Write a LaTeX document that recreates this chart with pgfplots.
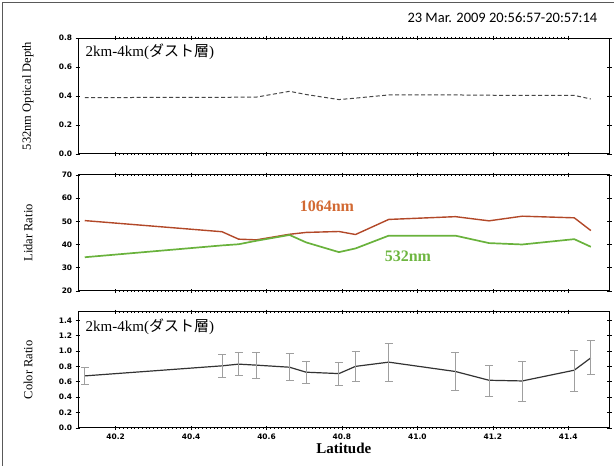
\documentclass[border=0pt]{standalone}
\usepackage{fontspec}
\setmainfont{Liberation Serif}
\newfontfamily\jp{Noto Sans CJK JP}
\newfontfamily\tickf{DejaVu Sans}
\newfontfamily\stamp{Carlito}
\usepackage{pgfplots}
\usepackage{pgfplotstable}
\pgfplotsset{compat=1.18}
\definecolor{c1064}{RGB}{178,72,40}
\definecolor{t1064}{RGB}{210,105,50}
\definecolor{c532}{RGB}{105,178,60}
\definecolor{t532}{RGB}{110,182,65}

\pgfplotstableread{
x y
40.118 0.389
40.482 0.390
40.526 0.392
40.573 0.392
40.661 0.432
40.705 0.410
40.792 0.375
40.836 0.385
40.924 0.407
41.101 0.407
41.190 0.405
41.278 0.404
41.416 0.404
41.460 0.379
}\od

\pgfplotstableread{
x a b
40.118 50.3 34.5
40.482 45.5 39.6
40.526 42.3 40.1
40.573 42.0 41.6
40.661 44.4 44.1
40.705 45.2 40.9
40.792 45.6 36.7
40.836 44.3 38.3
40.924 50.8 43.8
41.101 52.0 43.8
41.190 50.2 40.6
41.278 52.2 40.0
41.416 51.5 42.3
41.460 46.0 39.0
}\lr

\pgfplotstableread{
x y ep em
40.118 0.676 0.109 0.113
40.482 0.807 0.153 0.157
40.526 0.829 0.157 0.153
40.573 0.816 0.161 0.171
40.661 0.789 0.175 0.170
40.705 0.724 0.144 0.144
40.792 0.706 0.149 0.156
40.836 0.800 0.194 0.194
40.924 0.855 0.248 0.253
41.101 0.733 0.248 0.249
41.190 0.619 0.196 0.213
41.278 0.610 0.258 0.261
41.416 0.750 0.253 0.275
41.460 0.911 0.227 0.218
}\cr

\pgfplotsset{panel/.style={
  scale only axis, width=532pt,
  xmin=40.1, xmax=41.51,
  xtick={40.2,40.4,40.6,40.8,41.0,41.2,41.4},
  minor x tick num=19,
  tick align=center,
  major tick length=4.5pt, minor tick length=2.2pt,
  tick style={black, line width=0.5pt},
  minor tick style={line width=0.35pt},
  axis line style={line width=0.9pt},
  /pgf/number format/assume math mode=true,
  tick label style={font=\tickf\bfseries\fontsize{7.5}{9}\selectfont},
  every axis y label/.style={at={(rel axis cs:0,0.5)}, anchor=center, rotate=90, yshift=50pt, font=\fontsize{12.5}{14}\selectfont},
  clip=false,
}}

\begin{document}
\begin{tikzpicture}[x=1pt,y=1pt]
\path (0,0) rectangle (614,466);
\draw[gray!70!black, line width=0.6pt] (2,0) -- (2,464) -- (614,464);
\node[anchor=base east, font=\stamp\fontsize{14.5}{16}\selectfont] at (601,443) {23 Mar. 2009 20:56:57-20:57:14};

\begin{axis}[panel, at={(78pt,312pt)}, anchor=south west, height=116pt,
  ymin=0, ymax=0.8, ytick={0,0.2,0.4,0.6,0.8},
  yticklabel style={/pgf/number format/.cd, fixed, fixed zerofill, precision=1},
  xticklabels={},
  ylabel={532nm Optical Depth}]
\addplot[gray!55!black, line width=1pt, dash pattern=on 4pt off 2.5pt] table[x=x,y=y] {\od};
\node[anchor=west, font=\fontsize{15}{17}\selectfont] at (rel axis cs:0.008,0.88) {2km-4km({\jp ダスト層})};
\end{axis}

\begin{axis}[panel, at={(78pt,175pt)}, anchor=south west, height=116pt,
  ymin=20, ymax=70, ytick={20,30,40,50,60,70},
  xticklabels={},
  ylabel={Lidar Ratio}]
\addplot[c1064, line width=1.4pt] table[x=x,y=a] {\lr};
\addplot[c532, line width=1.7pt] table[x=x,y=b] {\lr};
\node[t1064, font=\bfseries\fontsize{16}{18}\selectfont] at (axis cs:40.76,56.3) {1064nm};
\node[t532, font=\bfseries\fontsize{16}{18}\selectfont] at (axis cs:40.975,34.8) {532nm};
\end{axis}

\begin{axis}[panel, at={(78pt,38pt)}, anchor=south west, height=116pt,
  ymin=0, ymax=1.51, ytick={0,0.2,0.4,0.6,0.8,1.0,1.2,1.4},
  yticklabel style={/pgf/number format/.cd, fixed, fixed zerofill, precision=1},
  xticklabel style={/pgf/number format/.cd, fixed, fixed zerofill, precision=1},
  ylabel={Color Ratio},
  xlabel={Latitude},
  xlabel style={font=\bfseries\fontsize{15}{17}\selectfont, yshift=3pt}]
\addplot[gray!40!black, line width=1.2pt,
  error bars/.cd, y dir=both, y explicit,
  error bar style={gray!75, line width=0.9pt},
  error mark options={gray!75, rotate=90, mark size=4pt, line width=0.9pt}]
  table[x=x,y=y,y error plus=ep,y error minus=em] {\cr};
\node[anchor=west, font=\fontsize{15}{17}\selectfont] at (rel axis cs:0.008,0.87) {2km-4km({\jp ダスト層})};
\end{axis}
\end{tikzpicture}
\end{document}
